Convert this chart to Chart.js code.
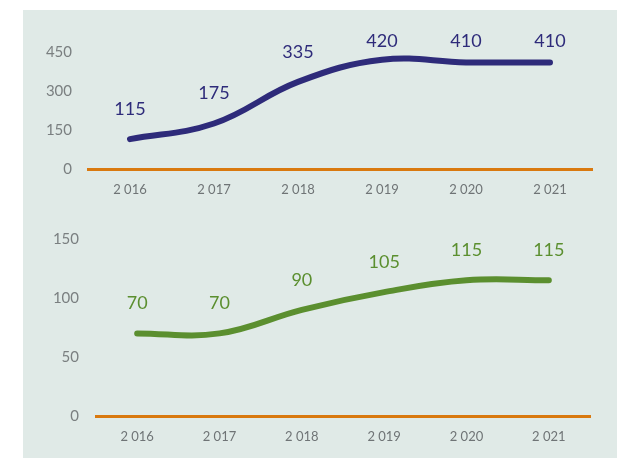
<!DOCTYPE html>
<html>
<head>
<meta charset="utf-8">
<script src="https://cdn.jsdelivr.net/npm/chart.js@4/dist/chart.umd.min.js"></script>
<style>
  html, body { margin: 0; padding: 0; background: #fff; }
  #page { position: relative; width: 626px; height: 458px; overflow: hidden; }
  #panel { position: absolute; left: 23px; top: 10px; width: 594px; height: 448px; background: #e0eae7; }
  #c1 { position: absolute; left: 0; top: 0; }
  #c2 { position: absolute; left: 0; top: 210px; }
</style>
</head>
<body>
<div id="page">
  <div id="panel"></div>
  <canvas id="c1" width="626" height="205"></canvas>
  <canvas id="c2" width="626" height="248"></canvas>
</div>
<script>
// data
const years = ["2 016", "2 017", "2 018", "2 019", "2 020", "2 021"];
const topValues = [115, 175, 335, 420, 410, 410];
const bottomValues = [70, 70, 90, 105, 115, 115];
const topTicks = [0, 150, 300, 450];
const bottomTicks = [0, 50, 100, 150];

const FONT = "Lato, 'Open Sans', sans-serif";

// value labels above each point
const valueLabels = {
  id: "valueLabels",
  afterDatasetsDraw(chart) {
    const ctx = chart.ctx;
    const meta = chart.getDatasetMeta(0);
    const ds = chart.data.datasets[0];
    ctx.save();
    ctx.font = "18px " + FONT;
    ctx.fillStyle = ds.borderColor;
    ctx.textAlign = "center";
    ctx.textBaseline = "middle";
    meta.data.forEach(function (pt, i) {
      var y = Math.max(pt.y - 30, chart.chartArea.top - 11);
      ctx.fillText(String(ds.data[i]), pt.x, y);
    });
    ctx.restore();
  }
};

function makeChart(id, values, ticks, color, yWidth, tickPad, xHeight, padding) {
  const ctx = document.getElementById(id).getContext("2d");
  return new Chart(ctx, {
    type: "line",
    data: {
      labels: years,
      datasets: [{
        data: values,
        borderColor: color,
        borderWidth: 6,
        borderCapStyle: "round",
        tension: 0.4,
        pointRadius: 0,
        fill: false
      }]
    },
    options: {
      responsive: false,
      animation: false,
      layout: { padding: padding },
      plugins: { legend: { display: false }, tooltip: { enabled: false } },
      scales: {
        x: {
          offset: true,
          grid: { display: false, drawTicks: false },
          border: { display: true, color: "#d9790f", width: 3 },
          ticks: { color: "#6f7476", font: { family: FONT, size: 13 }, padding: 13, maxRotation: 0 },
          afterFit: function (s) { s.height = xHeight; }
        },
        y: {
          min: ticks[0],
          max: ticks[ticks.length - 1],
          afterBuildTicks: function (s) { s.ticks = ticks.map(function (v) { return { value: v }; }); },
          grid: { display: false, drawTicks: false },
          border: { display: false },
          ticks: { color: "#7a7f80", font: { family: FONT, size: 15 }, padding: tickPad },
          afterFit: function (s) { s.width = yWidth; }
        }
      }
    },
    plugins: [valueLabels]
  });
}

makeChart("c1", topValues, topTicks, "#2e2b7a", 88, 16, 36, { top: 52, right: 34, left: 0, bottom: 0 });
makeChart("c2", bottomValues, bottomTicks, "#5b8f2f", 96, 17, 42, { top: 29, right: 36, left: 0, bottom: 0 });
</script>
</body>
</html>
